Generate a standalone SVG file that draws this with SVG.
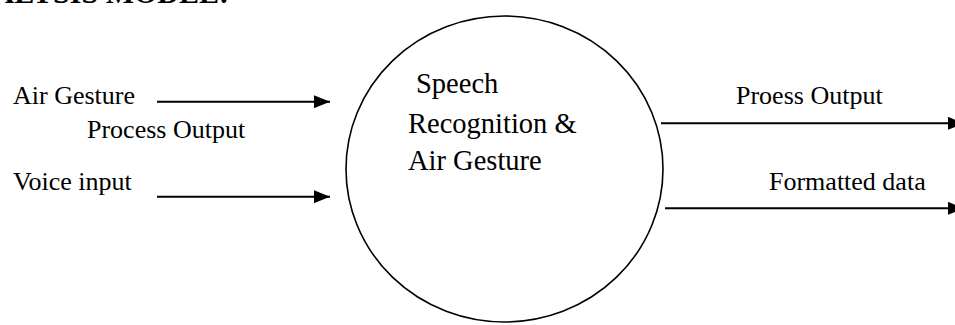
<svg xmlns="http://www.w3.org/2000/svg" width="955" height="325" viewBox="0 0 955 325">
  <style>
    .lbl { font-family: "Liberation Serif", "Times New Roman", serif; font-size: 26px; fill: #000; }
    .ctr { font-family: "Liberation Serif", "Times New Roman", serif; font-size: 28.5px; fill: #000; }
    .ttl { font-family: "Liberation Serif", "Times New Roman", serif; font-size: 30px; font-weight: bold; fill: #000; }
    .flow { stroke: #000; stroke-width: 2; fill: none; marker-end: url(#head); }
  </style>
  <defs>
    <marker id="head" markerUnits="userSpaceOnUse" markerWidth="16" markerHeight="13" refX="16" refY="6.5" orient="auto">
      <path d="M0,0 L16,6.5 L0,13 Z" fill="#000"/>
    </marker>
  </defs>
  <rect width="955" height="325" fill="#fff"/>

  <!-- section heading, running off the top edge -->
  <text class="ttl" x="229" y="2.5" text-anchor="end">ANALYSIS MODEL:</text>

  <!-- central process -->
  <g id="process">
    <ellipse cx="504.5" cy="169" rx="158.5" ry="153" fill="none" stroke="#000" stroke-width="1.6"/>
    <text class="ctr" x="416" y="93">Speech</text>
    <text class="ctr" x="408" y="133">Recognition &amp;</text>
    <text class="ctr" x="408" y="170">Air Gesture</text>
  </g>

  <!-- external inputs / outputs -->
  <g id="air-gesture">
    <text class="lbl" x="13" y="104">Air Gesture</text>
  </g>
  <g id="process-output-in">
    <text class="lbl" x="87" y="138">Process Output</text>
  </g>
  <g id="voice-input">
    <text class="lbl" x="13" y="189.5">Voice input</text>
  </g>
  <g id="proess-output">
    <text class="lbl" x="736" y="103.5">Proess Output</text>
  </g>
  <g id="formatted-data">
    <text class="lbl" x="769" y="189.5">Formatted data</text>
  </g>

  <!-- data flows -->
  <g id="connectors">
    <line class="flow" x1="157" y1="101.7" x2="330" y2="101.7"/>
    <line class="flow" x1="157" y1="196.7" x2="330" y2="196.7"/>
    <line class="flow" x1="661" y1="123.3" x2="964" y2="123.3"/>
    <line class="flow" x1="665" y1="208.3" x2="964" y2="208.3"/>
  </g>
</svg>
